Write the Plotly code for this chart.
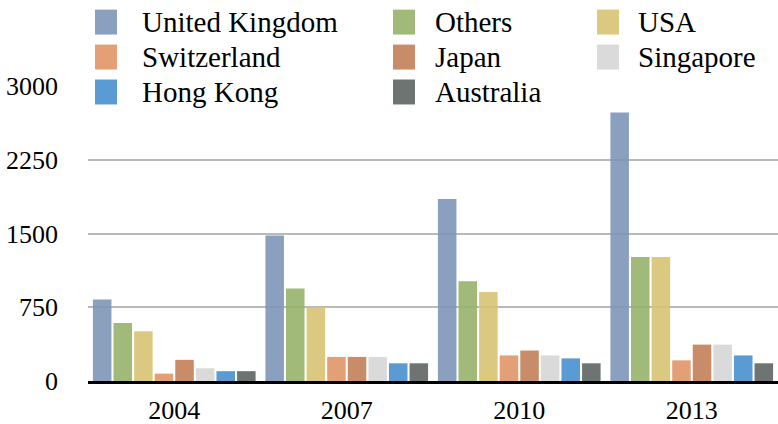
import plotly.graph_objects as go

years = ["2004", "2007", "2010", "2013"]
series_names = ["United Kingdom", "Others", "USA", "Switzerland", "Japan", "Singapore", "Hong Kong", "Australia"]
uk = [830, 1480, 1850, 2730]
others = [590, 940, 1015, 1260]
usa = [505, 750, 905, 1260]
switzerland = [75, 245, 260, 210]
japan = [215, 245, 310, 370]
singapore = [130, 245, 260, 370]
hong_kong = [100, 180, 230, 260]
australia = [100, 180, 180, 180]
series_values = [uk, others, usa, switzerland, japan, singapore, hong_kong, australia]
y_ticks = [0, 750, 1500, 2250, 3000]

colors = ["rgba(125,150,183,0.9)", "rgba(151,178,108,0.9)", "rgba(216,195,115,0.9)",
          "rgba(224,150,104,0.9)", "rgba(194,127,88,0.9)", "rgba(214,214,214,0.9)",
          "rgba(72,144,206,0.9)", "rgba(94,101,98,0.9)"]

FONT = "Liberation Serif"
W, H = 778, 424
L, R, T, B = 88, 0, 86, 42.5
pw, ph = W - L - R, H - T - B

def px_x(p):
    return (p - L) / pw

def px_y(p):
    return (H - B - p) / ph

fig = go.Figure()
for name, vals, col in zip(series_names, series_values, colors):
    fig.add_trace(go.Bar(x=years, y=vals, name=name, marker=dict(color=col, line=dict(width=0)),
                         showlegend=False))

# manual legend
row_centers = [22, 57, 92]
swatch_x = [(95, 117), (393, 415), (597, 619)]
text_x = [140, 433, 636]
shapes = []
annotations = []
for i, (name, col) in enumerate(zip(series_names, colors)):
    r, c = divmod(i, 3)
    yc = row_centers[r]
    shapes.append(dict(type="rect", xref="paper", yref="paper",
                       x0=px_x(swatch_x[c][0]), x1=px_x(swatch_x[c][1]),
                       y0=px_y(yc + 12.5), y1=px_y(yc - 12.5),
                       fillcolor=col, line=dict(width=0), layer="above"))
    annotations.append(dict(text=name, xref="paper", yref="paper", x=px_x(text_x[c]), y=px_y(yc),
                            xanchor="left", yanchor="middle", showarrow=False,
                            font=dict(family=FONT, size=29, color="black")))

fig.update_layout(
    width=W, height=H,
    margin=dict(l=L, r=R, t=T, b=B, autoexpand=False),
    paper_bgcolor="white", plot_bgcolor="white",
    barmode="group", bargap=0.045, bargroupgap=0.1,
    shapes=shapes, annotations=annotations,
    font=dict(family=FONT, size=26, color="black"),
    xaxis=dict(type="category", range=[-0.5, 3.5], showline=True, linecolor="black", linewidth=3,
               showgrid=False, ticks="", ticklabelstandoff=4, automargin=False,
               tickfont=dict(family=FONT, size=26, color="black")),
    yaxis=dict(range=[0, 3000], tickvals=y_ticks, ticktext=[str(v) for v in y_ticks],
               showgrid=True, gridcolor="#b9b9b9", gridwidth=1.5, zeroline=False, showline=False,
               ticks="", ticklabelstandoff=29, automargin=False,
               tickfont=dict(family=FONT, size=26, color="black")),
)

fig.write_html("out.html")
